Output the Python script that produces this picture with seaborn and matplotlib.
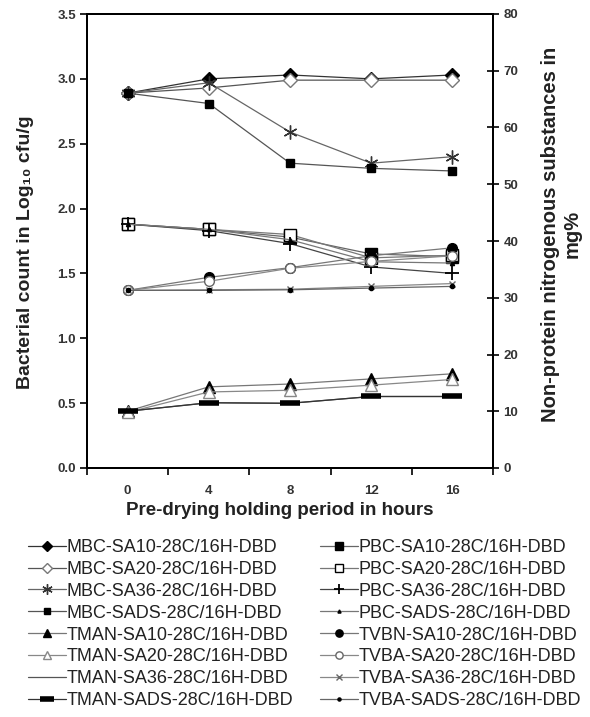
import matplotlib
matplotlib.use("Agg")
import matplotlib.pyplot as plt
import seaborn as sns
import pandas as pd
from matplotlib.ticker import FixedLocator

sns.set_theme(style="white")
plt.rcParams['font.family'] = ['Liberation Sans', 'DejaVu Sans']

hours = [0, 4, 8, 12, 16]
hour_labels = ['0', '4', '8', '12', '16']

# Bacterial counts (log10 cfu/g) - left axis
mbc_sa10 = [2.89, 3.00, 3.03, 3.00, 3.03]
mbc_sa20 = [2.89, 2.93, 2.99, 2.99, 2.99]
mbc_sa36 = [2.89, 2.97, 2.59, 2.35, 2.40]
mbc_sads = [2.89, 2.81, 2.35, 2.31, 2.29]
pbc_sa10 = [1.88, 1.84, 1.78, 1.65, 1.63]
pbc_sa20 = [1.88, 1.84, 1.80, 1.62, 1.64]
pbc_sa36 = [1.88, 1.83, 1.73, 1.55, 1.50]
pbc_sads = [1.88, 1.84, 1.76, 1.59, 1.58]

# Non-protein nitrogenous substances (mg%) - right axis
tman_sa10 = [10.0, 14.3, 14.8, 15.7, 16.6]
tman_sa20 = [9.8, 13.4, 13.7, 14.6, 15.6]
tman_sa36 = [10.0, 11.5, 11.4, 12.6, 12.6]
tman_sads = [10.0, 11.5, 11.4, 12.6, 12.6]
tvbn_sa10 = [31.3, 33.6, 35.3, 37.4, 38.8]
tvba_sa20 = [31.3, 32.9, 35.2, 36.4, 37.4]
tvba_sa36 = [31.3, 31.4, 31.5, 32.0, 32.5]
tvba_sads = [31.3, 31.3, 31.4, 31.7, 32.0]

left_series = [
    ("MBC-SA10-28C/16H-DBD", mbc_sa10, dict(marker='D', color='#333333', mfc='black', mec='black', ms=7)),
    ("MBC-SA20-28C/16H-DBD", mbc_sa20, dict(marker='D', color='#555555', mfc='white', mec='#777777', ms=7)),
    ("MBC-SA36-28C/16H-DBD", mbc_sa36, dict(marker=(6, 2, 0), color='#666666', mfc='none', mec='#333333', ms=10, mew=1.0)),
    ("MBC-SADS-28C/16H-DBD", mbc_sads, dict(marker='s', color='#555555', mfc='black', mec='black', ms=6)),
]
right_series_a = [
    ("TMAN-SA10-28C/16H-DBD", tman_sa10, dict(marker='^', color='#777777', mfc='black', mec='black', ms=8)),
    ("TMAN-SA20-28C/16H-DBD", tman_sa20, dict(marker='^', color='#888888', mfc='white', mec='#888888', ms=8)),
    ("TMAN-SA36-28C/16H-DBD", tman_sa36, dict(marker='', color='#555555')),
    ("TMAN-SADS-28C/16H-DBD", tman_sads, dict(marker='_', color='#333333', mfc='black', mec='black', ms=14, mew=4)),
]
left_series_b = [
    ("PBC-SA10-28C/16H-DBD", pbc_sa10, dict(marker='s', color='#666666', mfc='black', mec='black', ms=8)),
    ("PBC-SA20-28C/16H-DBD", pbc_sa20, dict(marker='s', color='#777777', mfc='white', mec='black', ms=8)),
    ("PBC-SA36-28C/16H-DBD", pbc_sa36, dict(marker='+', color='#444444', mfc='black', mec='black', ms=10, mew=1.3)),
    ("PBC-SADS-28C/16H-DBD", pbc_sads, dict(marker='^', color='#777777', mfc='black', mec='black', ms=3)),
]
right_series_b = [
    ("TVBN-SA10-28C/16H-DBD", tvbn_sa10, dict(marker='o', color='#777777', mfc='black', mec='black', ms=7)),
    ("TVBA-SA20-28C/16H-DBD", tvba_sa20, dict(marker='o', color='#888888', mfc='white', mec='#666666', ms=7)),
    ("TVBA-SA36-28C/16H-DBD", tvba_sa36, dict(marker='x', color='#888888', mfc='none', mec='#666666', ms=5)),
    ("TVBA-SADS-28C/16H-DBD", tvba_sads, dict(marker='o', color='#666666', mfc='black', mec='black', ms=3)),
]

fig = plt.figure(figsize=(5.9, 7.17), dpi=100)
ax = fig.add_axes([87/590, 1-468/717, (493-87)/590, (468-14)/717])
ax2 = ax.twinx()

handles = {}

def draw(axis, name, vals, st):
    df = pd.DataFrame({"hours": hours, "value": vals})
    st = dict(st)
    marker = st.pop('marker')
    color = st.pop('color')
    sns.lineplot(data=df, x="hours", y="value", ax=axis, color=color, lw=0.9,
                 marker=marker if marker else None,
                 markerfacecolor=st.get('mfc', 'black'),
                 markeredgecolor=st.get('mec', 'black'),
                 markersize=st.get('ms', 6),
                 markeredgewidth=st.get('mew', 1.0),
                 label=name, legend=False)
    handles[name] = axis.lines[-1]

for name, vals, st in left_series + left_series_b:
    draw(ax, name, vals, st)
for name, vals, st in right_series_a + right_series_b:
    draw(ax2, name, vals, st)

ax.set_xlim(-2, 18)
ax.set_ylim(0, 3.5)
ax2.set_ylim(0, 80)

ax.xaxis.set_major_locator(FixedLocator([-2, 2, 6, 10, 14, 18]))
ax.xaxis.set_minor_locator(FixedLocator(hours))
ax.set_xticklabels([])
ax.set_xticklabels(hour_labels, minor=True)
ax.tick_params(axis='x', which='major', direction='out', length=5, width=1.2, color='black', bottom=True)
ax.tick_params(axis='x', which='minor', length=0, pad=12, labelsize=9.5)
for t in ax.get_xticklabels(minor=True):
    t.set_fontweight('bold')
    t.set_color('#333333')

ax.set_yticks([0, 0.5, 1.0, 1.5, 2.0, 2.5, 3.0, 3.5])
ax.set_yticklabels(['0.0', '0.5', '1.0', '1.5', '2.0', '2.5', '3.0', '3.5'])
ax.tick_params(axis='y', direction='out', length=5, width=1.2, color='black', left=True, labelsize=9.5, pad=3)
for t in ax.get_yticklabels():
    t.set_fontweight('bold')
    t.set_color('#333333')

ax2.set_yticks(range(0, 81, 10))
ax2.tick_params(axis='y', direction='inout', length=9, width=1.2, color='black', right=True, labelsize=9.5, pad=3)
for t in ax2.get_yticklabels():
    t.set_fontweight('bold')
    t.set_color('#333333')

for a in (ax, ax2):
    for s in a.spines.values():
        s.set_color('black')
        s.set_linewidth(1.4)
    a.grid(False)

ax.set_xlabel("Pre-drying holding period in hours", fontsize=13.5, fontweight='bold', color='#222222')
ax.xaxis.set_label_coords(0.475, -0.075)
ax.set_ylabel("Bacterial count in Log\u2081\u2080 cfu/g", fontsize=14, fontweight='bold', color='#222222')
ax.yaxis.set_label_coords(-0.13, 0.475)
ax2.set_ylabel("Non-protein nitrogenous substances in\nmg%", fontsize=14.5, fontweight='bold',
               color='#222222', linespacing=1.15)
ax2.yaxis.set_label_coords(1.118, 0.515)

order = [n for n, _, _ in left_series] + [n for n, _, _ in right_series_a] + \
        [n for n, _, _ in left_series_b] + [n for n, _, _ in right_series_b]
leg = fig.legend([handles[n] for n in order], order, ncol=2, loc='upper left',
                 bbox_to_anchor=(28/590, 1-539/717), frameon=False, fontsize=13,
                 labelspacing=0.27, handlelength=2.1, handletextpad=0.05,
                 columnspacing=1.45, borderaxespad=0, borderpad=0, markerscale=0.75)
for t in leg.get_texts():
    t.set_color('#222222')

fig.savefig("out.png", dpi=100)
